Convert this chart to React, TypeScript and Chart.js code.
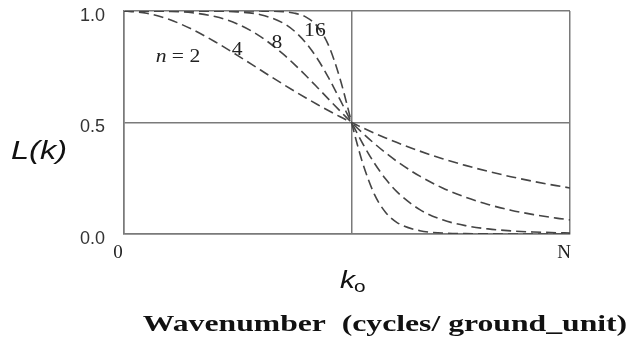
import React, { useEffect, useRef } from "react";
import { Chart, registerables } from "chart.js";

Chart.register(...registerables);

// Wavenumber samples, in units of the cutoff k0 (right edge is N)
const kValues = [
  0, 0.1, 0.2, 0.3, 0.4, 0.5, 0.6, 0.7, 0.75, 0.8, 0.85, 0.9, 0.95, 0.975, 1.0,
  1.025, 1.05, 1.1, 1.15, 1.2, 1.3, 1.4, 1.5, 1.6, 1.7, 1.8, 1.9, 1.96,
];

// Low-pass response L(k) for each filter order n
const orderLabels = ["2", "4", "8", "16"];
const responseN2 = [
  1.0, 0.99, 0.9615, 0.9174, 0.8621, 0.8, 0.7353, 0.6711, 0.64, 0.6098, 0.5806,
  0.5525, 0.5256, 0.5127, 0.5, 0.4877, 0.4756, 0.4525, 0.4306, 0.4098, 0.3717,
  0.3378, 0.3077, 0.2809, 0.2571, 0.2358, 0.2169, 0.2065,
];
const responseN4 = [
  1.0, 1.0, 0.9984, 0.992, 0.975, 0.9412, 0.8853, 0.8064, 0.7596, 0.7094, 0.657,
  0.6038, 0.5511, 0.5253, 0.5, 0.4753, 0.4513, 0.4058, 0.3638, 0.3253, 0.2593,
  0.2065, 0.1649, 0.1324, 0.1069, 0.087, 0.0713, 0.0635,
];
const responseN8 = [
  1.0, 1.0, 1.0, 0.9999, 0.9993, 0.9961, 0.9835, 0.9455, 0.909, 0.8563, 0.7859,
  0.6991, 0.6012, 0.5504, 0.5, 0.4508, 0.4036, 0.3181, 0.2464, 0.1887, 0.1092,
  0.0635, 0.0376, 0.0228, 0.0141, 0.009, 0.0059, 0.0046,
];
const responseN16 = [
  1.0, 1.0, 1.0, 1.0, 1.0, 1.0, 0.9997, 0.9967, 0.9901, 0.9726, 0.9309, 0.8436,
  0.6944, 0.6, 0.5, 0.4025, 0.3142, 0.1787, 0.0965, 0.0513, 0.0148, 0.0046,
  0.0015, 0.0005, 0.0002, 0.0001, 0.0, 0.0,
];

// Axis ticks
const xTickValues = [0, 1, 1.96];
const xTickLabels = ["0", "", "N"];
const yTickValues = [0, 0.5, 1];

// Where each order label sits (data coordinates)
const orderLabelX = [0.237, 0.497, 0.672, 0.839];
const orderLabelY = [0.794, 0.825, 0.857, 0.91];

const SERIF = "'Liberation Serif', 'Times New Roman', serif";
const SANS = "'Liberation Sans', Arial, sans-serif";

const textPlugin = {
  id: "filterText",
  afterDraw(chart: any) {
    const { ctx, scales } = chart;
    const xs = scales.x;
    const ys = scales.y;

    const drawStretched = (
      text: string,
      x: number,
      y: number,
      font: string,
      color: string,
      stretch: number
    ) => {
      ctx.save();
      ctx.translate(x, y);
      ctx.scale(stretch, 1);
      ctx.font = font;
      ctx.fillStyle = color;
      ctx.textAlign = "center";
      ctx.textBaseline = "middle";
      ctx.fillText(text, 0, 0);
      ctx.restore();
    };

    // order labels on the curves
    orderLabels.forEach((lab, i) => {
      const px = xs.getPixelForValue(orderLabelX[i]);
      const py = ys.getPixelForValue(orderLabelY[i]);
      if (i === 0) {
        ctx.save();
        ctx.translate(px, py);
        ctx.scale(1.2, 1);
        ctx.fillStyle = "#222";
        ctx.textBaseline = "middle";
        ctx.font = `italic 18px ${SERIF}`;
        const wN = ctx.measureText("n").width;
        ctx.font = `18px ${SERIF}`;
        const rest = " = " + lab;
        const wR = ctx.measureText(rest).width;
        const start = -(wN + wR) / 2;
        ctx.font = `italic 18px ${SERIF}`;
        ctx.textAlign = "left";
        ctx.fillText("n", start, 0);
        ctx.font = `18px ${SERIF}`;
        ctx.fillText(rest, start + wN, 0);
        ctx.restore();
      } else {
        drawStretched(lab, px, py, `18px ${SERIF}`, "#222", 1.2);
      }
    });

    // y-axis label
    drawStretched("L(k)", 39, 152, `italic 25px ${SANS}`, "#111", 1.3);

    // cutoff wavenumber k0 under its grid line
    const k0x = xs.getPixelForValue(1);
    ctx.save();
    ctx.translate(k0x - 4, 282);
    ctx.scale(1.3, 1);
    ctx.fillStyle = "#111";
    ctx.textBaseline = "middle";
    ctx.textAlign = "center";
    ctx.font = `italic 23px ${SANS}`;
    ctx.fillText("k", 0, 0);
    ctx.font = `16px ${SANS}`;
    ctx.textAlign = "left";
    ctx.fillText("o", 5, 6);
    ctx.restore();

    // x-axis title
    drawStretched("Wavenumber  (cycles/ ground_unit)", 385, 325, `bold 24px ${SERIF}`, "#111", 1.32);
  },
};

export default function App() {
  const canvasRef = useRef<HTMLCanvasElement | null>(null);

  useEffect(() => {
    const canvas = canvasRef.current;
    if (!canvas) return;

    const series = [responseN2, responseN4, responseN8, responseN16];
    const datasets = series.map((vals, i) => ({
      label: "n = " + orderLabels[i],
      data: kValues.map((k, j) => ({ x: k, y: vals[j] })),
      borderColor: "#454545",
      borderWidth: 1.6,
      borderDash: [10, 5],
      pointRadius: 0,
      fill: false,
      cubicInterpolationMode: "monotone" as const,
    }));

    const chart = new Chart(canvas, {
      type: "line",
      data: { datasets },
      plugins: [textPlugin],
      options: {
        animation: false,
        responsive: true,
        maintainAspectRatio: false,
        layout: { padding: { left: 0, top: 11, right: 63, bottom: 0 } },
        plugins: {
          legend: { display: false },
          tooltip: { enabled: false },
        },
        scales: {
          x: {
            type: "linear",
            min: 0,
            max: 1.96,
            afterBuildTicks: (scale: any) => {
              scale.ticks = xTickValues.map((v) => ({ value: v }));
            },
            afterFit: (scale: any) => {
              scale.height = 113;
              scale.paddingLeft = 0;
              scale.paddingRight = 0;
            },
            ticks: {
              autoSkip: false,
              maxRotation: 0,
              padding: 8,
              labelOffset: -6,
              color: "#222",
              font: { family: SERIF, size: 19 },
              callback: (value: any) => {
                const idx = xTickValues.indexOf(Number(value));
                return idx >= 0 ? xTickLabels[idx] : "";
              },
            },
            grid: { color: "#7a7a7a", lineWidth: 1.5, drawTicks: false },
            border: { display: true, color: "#7a7a7a", width: 1.5 },
          },
          y: {
            type: "linear",
            min: 0,
            max: 1,
            afterBuildTicks: (scale: any) => {
              scale.ticks = yTickValues.map((v) => ({ value: v }));
            },
            afterFit: (scale: any) => {
              scale.width = 124;
              scale.paddingTop = 0;
              scale.paddingBottom = 0;
            },
            ticks: {
              padding: 19,
              labelOffset: 5,
              color: "#333",
              font: { family: SANS, size: 18 },
              callback: (value: any) => Number(value).toFixed(1),
            },
            grid: { color: "#7a7a7a", lineWidth: 1.5, drawTicks: false },
            border: { display: true, color: "#7a7a7a", width: 1.5 },
          },
        },
      },
    });

    return () => chart.destroy();
  }, []);

  return (
    <div style={{ position: "absolute", left: 0, top: 0, width: 633, height: 347, background: "#fff" }}>
      <canvas ref={canvasRef} />
    </div>
  );
}
